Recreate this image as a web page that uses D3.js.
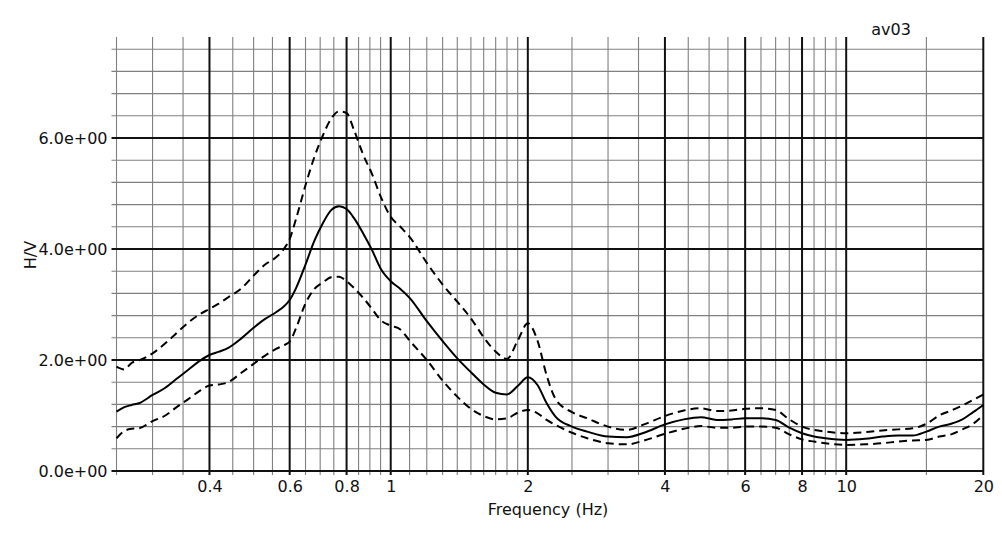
<!DOCTYPE html>
<html><head><meta charset="utf-8">
<script src="https://cdn.jsdelivr.net/npm/d3@7"></script>
<style>body{margin:0;background:#fff}svg{display:block}text{font-family:"DejaVu Sans",sans-serif}</style>
</head><body><svg id="c" width="1002" height="538"></svg>
<script>
const freqs = [0.25,0.26,0.27,0.28,0.30,0.32,0.34,0.36,0.38,0.40,0.42,0.44,0.47,0.50,0.53,0.56,0.58,0.60,0.62,0.65,0.68,0.71,0.74,0.77,0.80,0.83,0.87,0.91,0.95,1.0,1.05,1.1,1.2,1.3,1.4,1.5,1.6,1.7,1.8,1.9,2.0,2.1,2.2,2.3,2.5,2.7,3.0,3.3,3.6,4.0,4.4,4.8,5.2,5.6,6.0,6.5,7.0,7.5,8.0,8.5,9.0,10,11,12,13,14,15,16,17,18,19,20];
const meanHV = [1.07,1.15,1.19,1.22,1.37,1.50,1.67,1.83,1.98,2.09,2.15,2.22,2.39,2.58,2.74,2.86,2.95,3.08,3.30,3.72,4.15,4.47,4.70,4.77,4.72,4.56,4.28,3.98,3.65,3.42,3.28,3.12,2.70,2.34,2.03,1.78,1.56,1.41,1.38,1.53,1.69,1.55,1.22,0.98,0.80,0.71,0.62,0.61,0.69,0.84,0.93,0.97,0.92,0.93,0.95,0.95,0.92,0.78,0.68,0.62,0.59,0.56,0.58,0.62,0.64,0.64,0.71,0.80,0.85,0.93,1.06,1.19];
const upperHV = [1.88,1.83,1.95,1.99,2.12,2.30,2.50,2.68,2.82,2.92,3.02,3.13,3.29,3.52,3.72,3.85,3.98,4.18,4.55,5.15,5.66,6.05,6.35,6.48,6.45,6.15,5.70,5.35,4.95,4.58,4.40,4.22,3.75,3.36,3.05,2.75,2.41,2.15,2.02,2.35,2.66,2.35,1.72,1.30,1.06,0.95,0.80,0.74,0.84,0.99,1.09,1.13,1.08,1.09,1.12,1.13,1.10,0.93,0.80,0.74,0.71,0.68,0.70,0.73,0.75,0.77,0.85,1.00,1.09,1.18,1.28,1.38];
const lowerHV = [0.59,0.72,0.76,0.77,0.90,1.00,1.16,1.30,1.44,1.54,1.56,1.60,1.77,1.93,2.08,2.20,2.26,2.33,2.58,3.02,3.28,3.40,3.49,3.50,3.42,3.30,3.12,2.92,2.72,2.62,2.55,2.35,2.00,1.63,1.34,1.12,0.99,0.93,0.95,1.05,1.10,1.04,0.92,0.83,0.69,0.59,0.50,0.48,0.55,0.67,0.76,0.81,0.78,0.78,0.80,0.80,0.78,0.66,0.57,0.53,0.50,0.47,0.48,0.50,0.53,0.55,0.56,0.62,0.66,0.75,0.85,1.01];
const xMajorTicks = [0.4,0.6,0.8,1,2,4,6,8,10,20];
const xMinorTicks = [0.25,0.3,0.35,0.45,0.5,0.55,0.65,0.7,0.75,0.85,0.9,0.95,1.1,1.2,1.3,1.4,1.5,1.6,1.7,1.8,1.9,2.5,3,3.5,4.5,5,5.5,6.5,7,7.5,8.5,9,9.5,15];
const yMajorTicks = [0,2,4,6];
const yMinorTicks = [0.4,0.8,1.2,1.6,2.4,2.8,3.2,3.6,4.4,4.8,5.2,5.6,6.4,6.8,7.2,7.6];
const title = "av03", xTitle = "Frequency (Hz)", yTitle = "H/V";

const L=116.5, R=983.3, T=37, B=471;
const x = d3.scaleLog().domain([0.25,20]).range([L,R]);
const y = d3.scaleLinear().domain([0,7.82]).range([B,T]);
const svg = d3.select("#c");
const g = svg.append("g");

// minor grid
g.selectAll(".vmin").data(xMinorTicks).enter().append("line")
 .attr("x1",d=>x(d)).attr("x2",d=>x(d)).attr("y1",T).attr("y2",B+4)
 .attr("stroke","#808080").attr("stroke-width",1.1);
g.selectAll(".hmin").data(yMinorTicks).enter().append("line")
 .attr("x1",L-5).attr("x2",R).attr("y1",d=>y(d)).attr("y2",d=>y(d))
 .attr("stroke","#808080").attr("stroke-width",1.1);
// major grid
g.selectAll(".vmaj").data(xMajorTicks).enter().append("line")
 .attr("x1",d=>x(d)).attr("x2",d=>x(d)).attr("y1",T).attr("y2",B+4)
 .attr("stroke","#111").attr("stroke-width",2);
g.selectAll(".hmaj").data(yMajorTicks).enter().append("line")
 .attr("x1",L-5).attr("x2",R).attr("y1",d=>y(d)).attr("y2",d=>y(d))
 .attr("stroke","#111").attr("stroke-width",2);

const xAxis = d3.axisBottom(x).tickValues(xMajorTicks).tickSize(0).tickPadding(10)
 .tickFormat(d=>String(d));
const ax = svg.append("g").attr("transform",`translate(0,${B})`).call(xAxis);
ax.select(".domain").remove();
ax.selectAll("text").attr("font-size",16).attr("font-family","DejaVu Sans").attr("fill","#111");
const yAxis = d3.axisLeft(y).tickValues(yMajorTicks).tickSize(0).tickPadding(9)
 .tickFormat(d=>d.toExponential(1).replace(/e\+(\d)$/,"e+0$1"));
const ay = svg.append("g").attr("transform",`translate(${L},0)`).call(yAxis);
ay.select(".domain").remove();
ay.selectAll("text").attr("font-size",16).attr("font-family","DejaVu Sans").attr("fill","#111");

const pts = arr => freqs.map((f,i)=>[f,arr[i]]);
const line = d3.line().x(d=>x(d[0])).y(d=>y(d[1])).curve(d3.curveMonotoneX);
svg.append("path").attr("d",line(pts(upperHV))).attr("fill","none").attr("stroke","#000").attr("stroke-width",2).attr("stroke-dasharray","8,5");
svg.append("path").attr("d",line(pts(lowerHV))).attr("fill","none").attr("stroke","#000").attr("stroke-width",2).attr("stroke-dasharray","8,5");
svg.append("path").attr("d",line(pts(meanHV))).attr("fill","none").attr("stroke","#000").attr("stroke-width",2);

svg.append("text").attr("x",891).attr("y",35).attr("text-anchor","middle").attr("font-size",16).attr("fill","#111").text(title);
svg.append("text").attr("x",548).attr("y",515).attr("text-anchor","middle").attr("font-size",16).attr("fill","#111").text(xTitle);
svg.append("text").attr("transform","translate(36,255) rotate(-90)").attr("text-anchor","middle").attr("font-size",16).attr("fill","#111").text(yTitle);
</script></body></html>
